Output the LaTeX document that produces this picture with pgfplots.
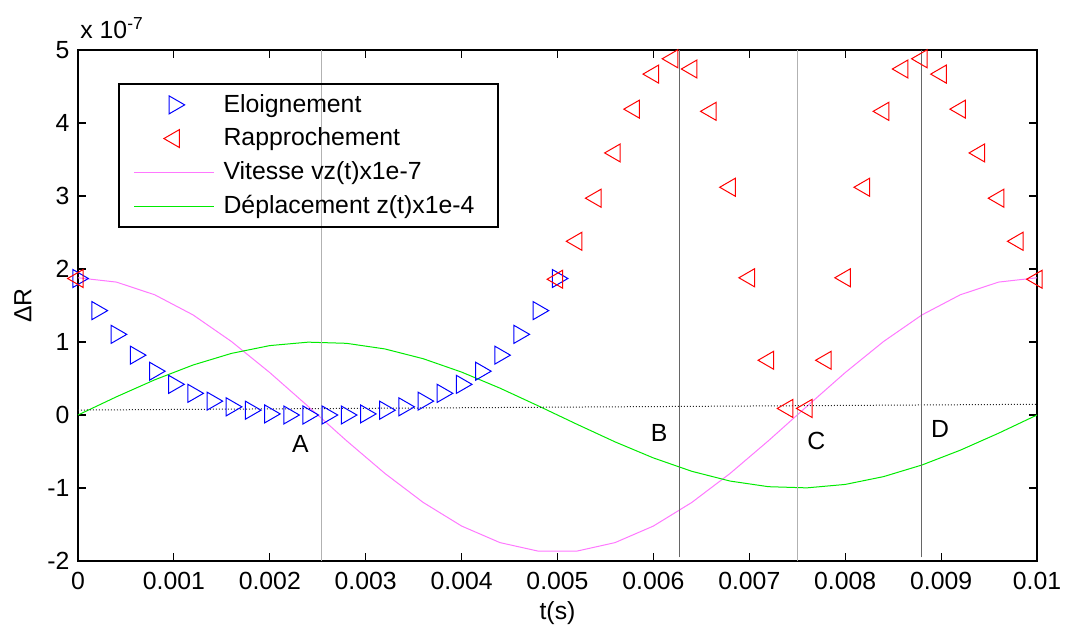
\documentclass[border=0pt]{standalone}
\usepackage{pgfplots}
\pgfplotsset{compat=1.18}
\usepackage{fontspec}
\setmainfont{Liberation Sans}
\definecolor{mypink}{RGB}{255,120,255}
\definecolor{mygreen}{RGB}{0,235,0}
\pgfplotsset{
  marklegend/.style={legend image code/.code={\path[draw=none] (0pt,0pt) -- (40pt,0pt); \draw[##1, only marks] plot coordinates {(20pt,0pt)};}},
  linelegend/.style={legend image code/.code={\draw[##1] (0pt,0pt) -- (40pt,0pt);}},
}
\begin{document}
\fontsize{12.4}{14.5}\selectfont
\begin{tikzpicture}
\path[use as bounding box] (-39pt,-33.5pt) rectangle (493.5pt,280.5pt);
\begin{axis}[
  at={(0,0)}, anchor=south west,
  scale only axis, width=479.5pt, height=255.5pt,
  xmin=0, xmax=0.01, ymin=-2, ymax=5,
  clip=false,
  xtick={0,0.001,0.002,0.003,0.004,0.005,0.006,0.007,0.008,0.009,0.01},
  ytick={-2,-1,0,1,2,3,4,5},
  scaled x ticks=false, scaled y ticks=false,
  xticklabel style={/pgf/number format/fixed, /pgf/number format/precision=3},
  /pgf/number format/assume math mode=true,
  tick align=inside, major tick length=4pt,
  axis line style={line width=0.9pt},
  every tick/.style={black, line width=0.6pt},
  xticklabel shift=1.5pt,
  every axis x label/.style={at={(axis description cs:0.5,-0.102)}, anchor=center},
  every axis y label/.style={at={(axis description cs:-0.0574,0.5)}, anchor=center, rotate=90},
  xlabel={t(s)}, ylabel={ΔR},
  legend style={at={(0.0417,0.935)}, anchor=north west, fill=none, draw=black, line width=0.8pt,
    inner xsep=7.5pt, inner ysep=3pt, row sep=2pt,
    nodes={inner xsep=4.4pt, inner ysep=2pt},
    font=\fontsize{12.4}{14.5}\selectfont},
  legend cell align=left,
]
\addplot[only marks, mark=triangle, mark size=5.2pt, blue, line width=0.5pt,
  mark options={rotate=-90, fill=none}, marklegend]
coordinates {
(0,1.87) (0.0002,1.43) (0.0004,1.105) (0.0006,0.82) (0.0008,0.60) (0.0010,0.42)
(0.0012,0.297) (0.0014,0.19) (0.0016,0.112) (0.0018,0.066) (0.0020,0.015)
(0.0022,0.0) (0.0024,0.0) (0.0026,0.0) (0.0028,0.0) (0.0030,0.015)
(0.0032,0.066) (0.0034,0.112) (0.0036,0.19) (0.0038,0.297) (0.0040,0.42)
(0.0042,0.60) (0.0044,0.82) (0.0046,1.105) (0.0048,1.43) (0.0050,1.87)
};
\addlegendentry{Eloignement}
\addplot[only marks, mark=triangle, mark size=5.2pt, red, line width=0.5pt,
  mark options={rotate=90, fill=none}, marklegend]
coordinates {
(0,1.87) (0.005,1.86) (0.0052,2.38) (0.0054,2.97) (0.0056,3.59) (0.0058,4.19)
(0.0060,4.67) (0.0062,4.88) (0.0064,4.74) (0.0066,4.16) (0.0068,3.12)
(0.0070,1.88) (0.0072,0.75) (0.0074,0.09) (0.0076,0.09) (0.0078,0.75)
(0.0080,1.88) (0.0082,3.12) (0.0084,4.16) (0.0086,4.74) (0.0088,4.88)
(0.0090,4.67) (0.0092,4.19) (0.0094,3.59) (0.0096,2.97) (0.0098,2.38) (0.0100,1.86)
};
\addlegendentry{Rapprochement}
\addplot[mypink, line width=0.5pt, linelegend] coordinates {
(0,1.88) (0.0004,1.821) (0.0008,1.647) (0.0012,1.371) (0.0016,1.007)
(0.0020,0.581) (0.0024,0.118) (0.0028,-0.352) (0.0032,-0.800) (0.0036,-1.198)
(0.0040,-1.521) (0.0044,-1.748) (0.0048,-1.865) (0.0052,-1.865) (0.0056,-1.748)
(0.0060,-1.521) (0.0064,-1.198) (0.0068,-0.800) (0.0072,-0.352) (0.0076,0.118)
(0.0080,0.581) (0.0084,1.007) (0.0088,1.371) (0.0092,1.647) (0.0096,1.821) (0.0100,1.88)
};
\addlegendentry{Vitesse vz(t)x1e-7}
\addplot[mygreen, line width=0.5pt, linelegend] coordinates {
(0,0) (0.0004,0.249) (0.0008,0.482) (0.0012,0.685) (0.0016,0.844)
(0.0020,0.951) (0.0024,0.998) (0.0028,0.982) (0.0032,0.905) (0.0036,0.771)
(0.0040,0.588) (0.0044,0.368) (0.0048,0.125) (0.0052,-0.125) (0.0056,-0.368)
(0.0060,-0.588) (0.0064,-0.771) (0.0068,-0.905) (0.0072,-0.982) (0.0076,-0.998)
(0.0080,-0.951) (0.0084,-0.844) (0.0088,-0.685) (0.0092,-0.482) (0.0096,-0.249) (0.0100,0)
};
\addlegendentry{Déplacement z(t)x1e-4}
\addplot[black!85, line width=0.5pt, densely dotted, forget plot] coordinates {(0,0.068) (0.01,0.147)};
\addplot[gray!60, line width=0.5pt, forget plot] coordinates {(0.002534,-2) (0.002534,5)};
\addplot[gray!60, line width=0.5pt, forget plot] coordinates {(0.0075,-2) (0.0075,5)};
\addplot[black!60, line width=0.5pt, forget plot] coordinates {(0.006267,-1.95) (0.006267,5)};
\addplot[black!60, line width=0.5pt, forget plot] coordinates {(0.0088,-1.95) (0.0088,5)};
\node at (axis cs:0.00232,-0.40) {A};
\node at (axis cs:0.00606,-0.24) {B};
\node at (axis cs:0.0077,-0.36) {C};
\node at (axis cs:0.00899,-0.19) {D};
\node[anchor=base west, inner sep=0pt] at ([yshift=6pt,xshift=1pt]rel axis cs:0,1) {x 10\textsuperscript{-7}};
\end{axis}
\end{tikzpicture}
\end{document}
